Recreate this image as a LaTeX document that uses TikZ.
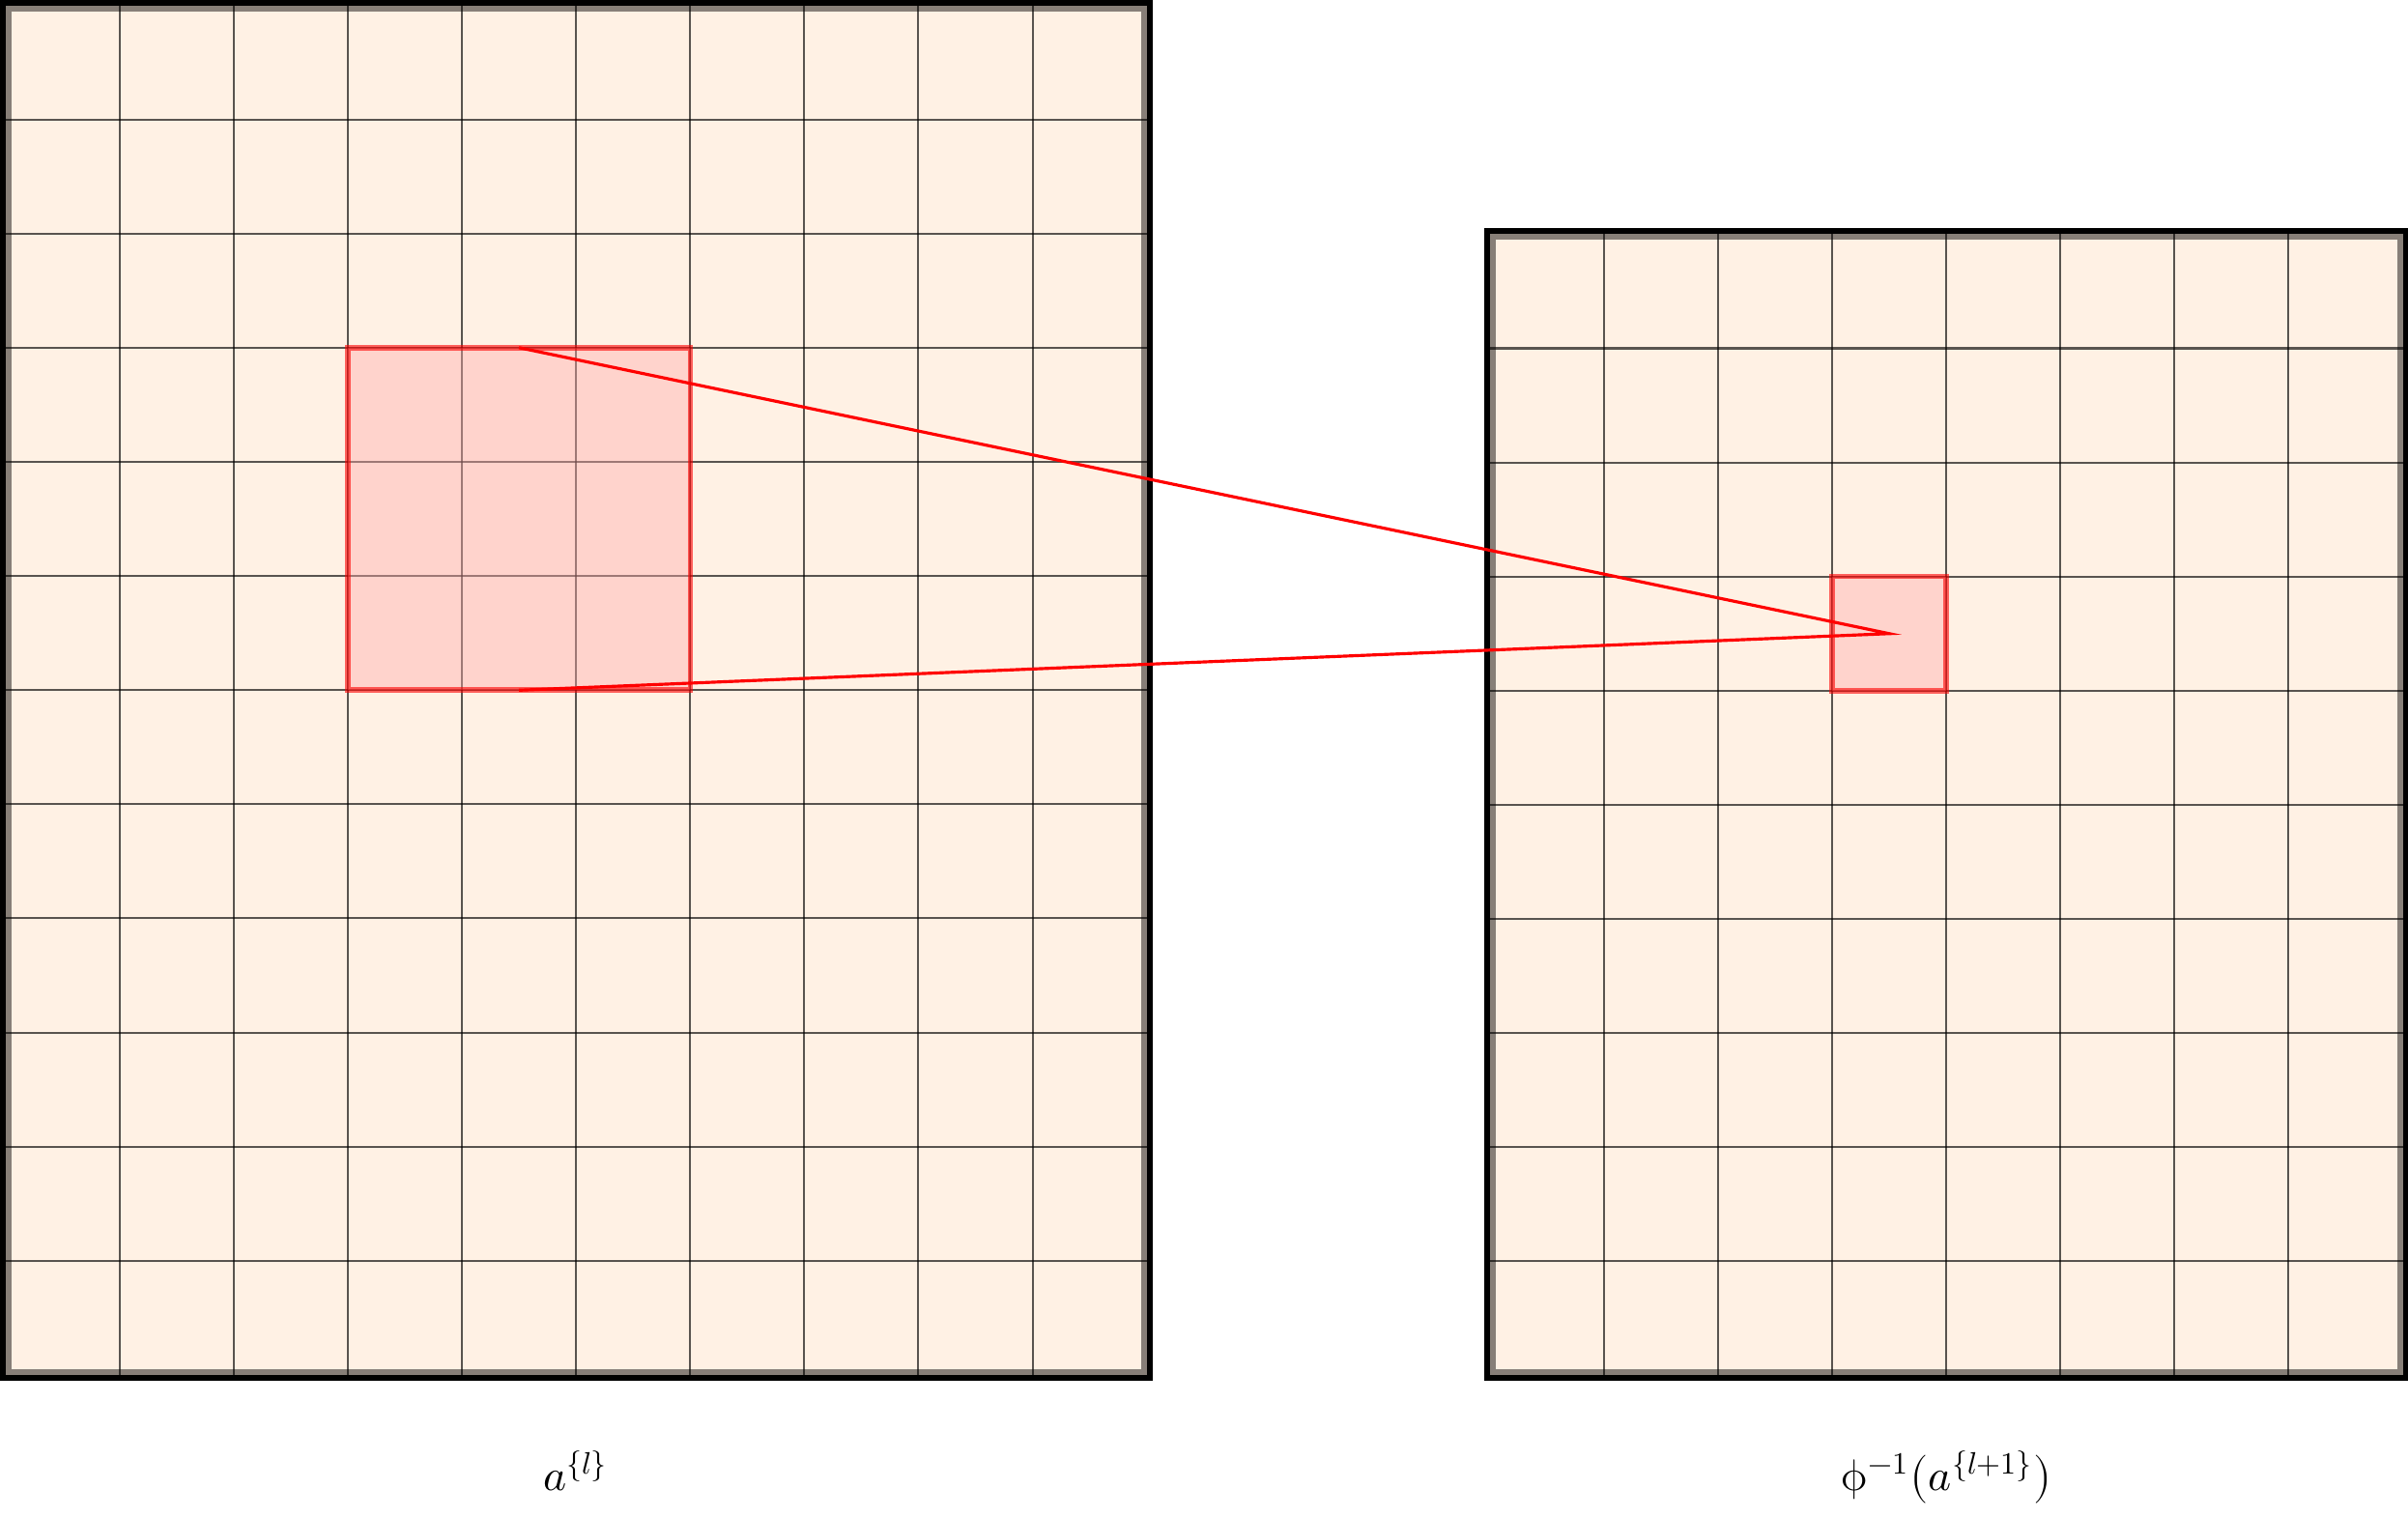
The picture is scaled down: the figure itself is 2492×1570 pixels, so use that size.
\documentclass[tikz,border=0pt]{standalone}
\usepackage{unicode-math}
\setmathfont{Latin Modern Math}
\definecolor{cream}{RGB}{255,241,228}
\tikzset{
  gridline/.style={draw=black, draw opacity=0.65, line width=0.57pt},
  band/.style={draw=black, draw opacity=0.47, line width=1.71pt},
  frame/.style={draw=black, line width=1.71pt},
  redsq/.style={rectangle, inner sep=0pt, outer sep=0pt, fill=red!33, fill opacity=0.42, draw=red, draw opacity=0.6, line width=1.6pt},
  redline/.style={draw=red, line width=0.9pt},
  lbl/.style={font=\fontsize{13}{15}\selectfont, inner sep=0pt}
}
\begin{document}
\begin{tikzpicture}[x=0.01cm, y=-0.01cm]
\useasboundingbox (0,0) rectangle (2492,1570);
% left grid
\fill[cream] (5.6,5.6) rectangle (1186.6,1423);
\foreach \i in {1,...,9} \draw[gridline] ({5.6+\i*118.1},5.6) -- ({5.6+\i*118.1},1423);
\foreach \j in {1,...,11} \draw[gridline] (5.6,{5.6+\j*118.1}) -- (1186.6,{5.6+\j*118.1});
% right grid
\fill[cream] (1541.7,242.4) rectangle (2486.5,1423);
\foreach \i in {1,...,7} \draw[gridline] ({1541.7+\i*118.1},242.4) -- ({1541.7+\i*118.1},1423);
\foreach \j in {1,...,9} \draw[gridline] (1541.7,{242.4+\j*118.1}) -- (2486.5,{242.4+\j*118.1});
% highlighted regions
\node[redsq, minimum size=3.543cm] (lsq) at (537.05,537.05) {};
\node[redsq, minimum size=1.181cm] (rsq) at (1955.05,655.75) {};
% frames
\draw[band] (8.6,8.6) rectangle (1183.6,1420);
\draw[frame] (2.6,2.6) rectangle (1189.6,1426);
\draw[band] (1544.7,245.4) rectangle (2483.5,1420);
\draw[frame] (1538.7,239.4) rectangle (2489.5,1426);
% connector
\draw[redline] (lsq.north) -- (rsq.center) -- (lsq.south);
% labels
\node[lbl, anchor=base] (la) at (596,1542) {$a^{\{l\}}$};
\node[lbl, anchor=base] (lb) at (2014,1542) {$\upphi^{-1}\bigl(a^{\{l+1\}}\bigr)$};
\end{tikzpicture}
\end{document}
